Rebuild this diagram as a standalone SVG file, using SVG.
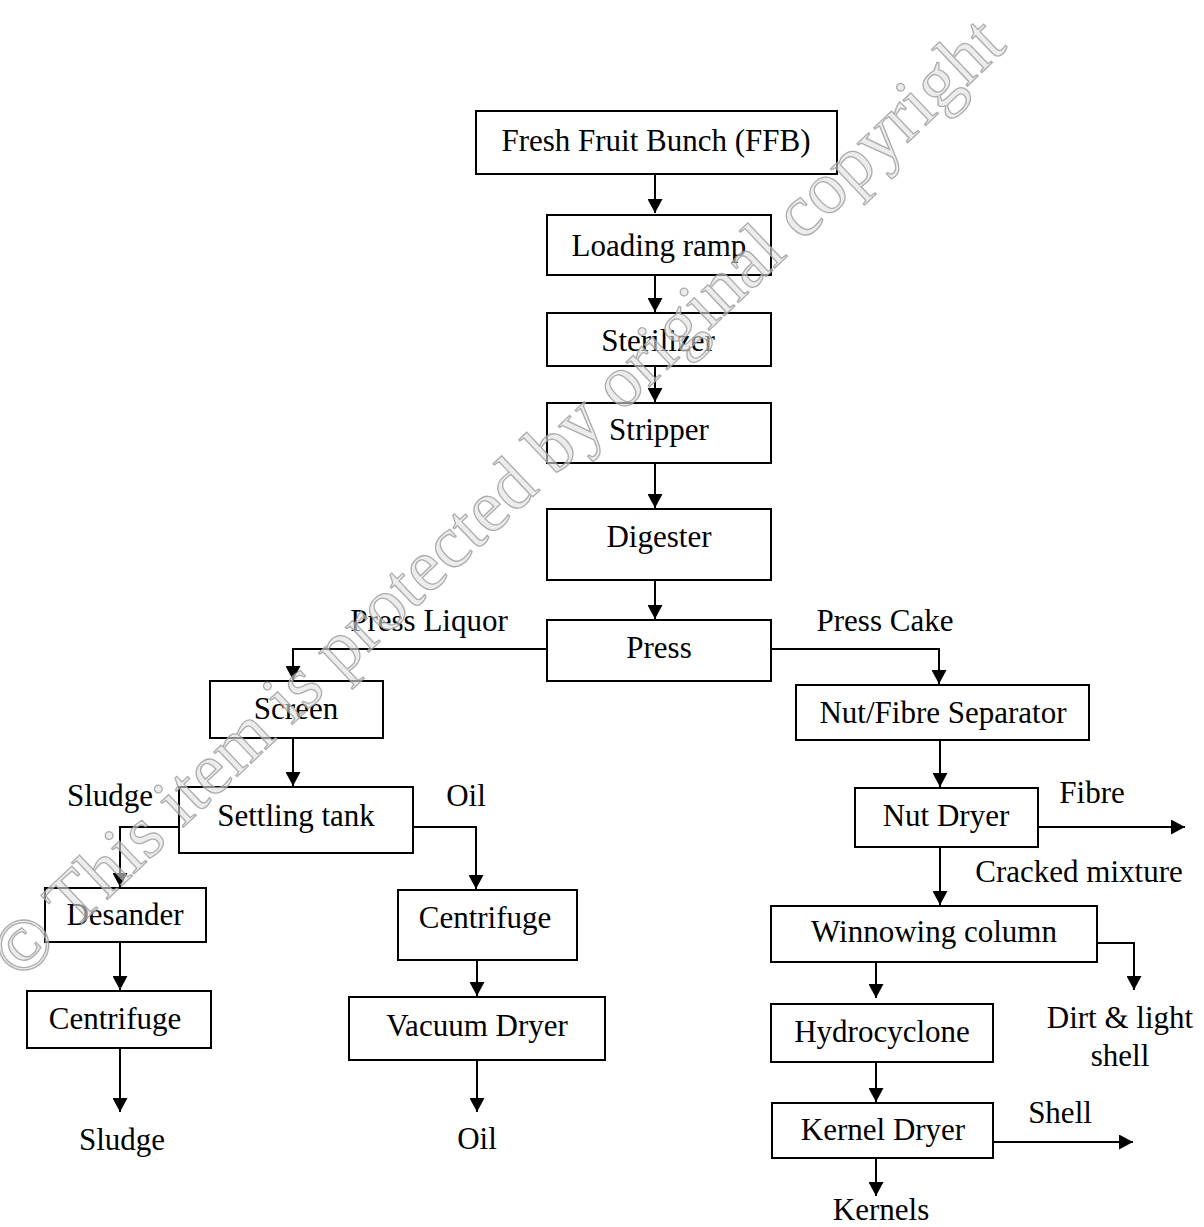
<svg xmlns="http://www.w3.org/2000/svg" width="1204" height="1227" viewBox="0 0 1204 1227">
<style>
.box{fill:#fff;stroke:#000;stroke-width:2}
.t{font-family:"Liberation Serif","Times New Roman",serif;font-size:31px;fill:#000;text-anchor:middle}
.c{fill:none;stroke:#000;stroke-width:2}
.wm{font-family:"Liberation Serif","Times New Roman",serif;font-size:74px;fill:#e0e0e0;fill-opacity:0.6;stroke:#9a9a9a;stroke-opacity:0.8;stroke-width:1.3}
</style>
<defs>
<marker id="ah" markerUnits="userSpaceOnUse" markerWidth="15" markerHeight="15" refX="14" refY="7.5" orient="auto">
<path d="M0,0 L14,7.5 L0,15 z" fill="#000"/>
</marker>
</defs>
<rect width="1204" height="1227" fill="#fff"/>
<g id="connectors">
<path class="c" d="M655,174 V213" marker-end="url(#ah)"/>
<path class="c" d="M655,275 V312" marker-end="url(#ah)"/>
<path class="c" d="M655,366 V402" marker-end="url(#ah)"/>
<path class="c" d="M655,463 V508" marker-end="url(#ah)"/>
<path class="c" d="M655,580 V619" marker-end="url(#ah)"/>
<path class="c" d="M546,649 H293 V680" marker-end="url(#ah)"/>
<path class="c" d="M293,738 V786" marker-end="url(#ah)"/>
<path class="c" d="M179,827 H120 V887" marker-end="url(#ah)"/>
<path class="c" d="M120,942 V990" marker-end="url(#ah)"/>
<path class="c" d="M120,1048 V1112" marker-end="url(#ah)"/>
<path class="c" d="M413,827 H476 V889" marker-end="url(#ah)"/>
<path class="c" d="M477,960 V996" marker-end="url(#ah)"/>
<path class="c" d="M477,1060 V1112" marker-end="url(#ah)"/>
<path class="c" d="M772,649 H939 V684" marker-end="url(#ah)"/>
<path class="c" d="M940,740 V787" marker-end="url(#ah)"/>
<path class="c" d="M1038,827 H1185" marker-end="url(#ah)"/>
<path class="c" d="M940,847 V905" marker-end="url(#ah)"/>
<path class="c" d="M1097,943 H1134 V990" marker-end="url(#ah)"/>
<path class="c" d="M876,962 V998" marker-end="url(#ah)"/>
<path class="c" d="M876,1062 V1102" marker-end="url(#ah)"/>
<path class="c" d="M993,1142 H1133" marker-end="url(#ah)"/>
<path class="c" d="M876,1158 V1196" marker-end="url(#ah)"/>
</g>
<g id="n-ffb"><rect class="box" x="476" y="111" width="361" height="63"/><text class="t" x="656" y="151">Fresh Fruit Bunch (FFB)</text></g>
<g id="n-loading"><rect class="box" x="547" y="215" width="224" height="60"/><text class="t" x="659" y="256">Loading ramp</text></g>
<g id="n-sterilizer"><rect class="box" x="547" y="313" width="224" height="53"/><text class="t" x="658" y="351">Sterilizer</text></g>
<g id="n-stripper"><rect class="box" x="547" y="403" width="224" height="60"/><text class="t" x="659" y="440">Stripper</text></g>
<g id="n-digester"><rect class="box" x="547" y="509" width="224" height="71"/><text class="t" x="659" y="547">Digester</text></g>
<g id="n-press"><rect class="box" x="547" y="620" width="224" height="61"/><text class="t" x="659" y="658">Press</text></g>
<g id="n-screen"><rect class="box" x="210" y="681" width="173" height="57"/><text class="t" x="296" y="719">Screen</text></g>
<g id="n-settling"><rect class="box" x="179" y="787" width="234" height="66"/><text class="t" x="296" y="826">Settling tank</text></g>
<g id="n-desander"><rect class="box" x="45" y="888" width="161" height="54"/><text class="t" x="125" y="925">Desander</text></g>
<g id="n-centrifuge1"><rect class="box" x="27" y="991" width="184" height="57"/><text class="t" x="115" y="1029">Centrifuge</text></g>
<g id="n-centrifuge2"><rect class="box" x="398" y="890" width="179" height="70"/><text class="t" x="485" y="928">Centrifuge</text></g>
<g id="n-vacuum"><rect class="box" x="349" y="997" width="256" height="63"/><text class="t" x="477" y="1036">Vacuum Dryer</text></g>
<g id="n-nutfibre"><rect class="box" x="796" y="685" width="293" height="55"/><text class="t" x="943" y="723">Nut/Fibre Separator</text></g>
<g id="n-nutdryer"><rect class="box" x="855" y="788" width="183" height="59"/><text class="t" x="946" y="826">Nut Dryer</text></g>
<g id="n-winnowing"><rect class="box" x="771" y="906" width="326" height="56"/><text class="t" x="934" y="942">Winnowing column</text></g>
<g id="n-hydro"><rect class="box" x="771" y="1004" width="222" height="58"/><text class="t" x="882" y="1042">Hydrocyclone</text></g>
<g id="n-kernel"><rect class="box" x="772" y="1103" width="221" height="55"/><text class="t" x="883" y="1140">Kernel Dryer</text></g>
<g id="labels">
<text class="t" x="429" y="631">Press Liquor</text>
<text class="t" x="885" y="631">Press Cake</text>
<text class="t" x="110" y="806">Sludge</text>
<text class="t" x="466" y="806">Oil</text>
<text class="t" x="122" y="1150">Sludge</text>
<text class="t" x="477" y="1149">Oil</text>
<text class="t" x="1092" y="803">Fibre</text>
<text class="t" x="1079" y="882">Cracked mixture</text>
<text class="t" x="1120" y="1028">Dirt &amp; light</text>
<text class="t" x="1120" y="1066">shell</text>
<text class="t" x="1060" y="1123">Shell</text>
<text class="t" x="881" y="1220">Kernels</text>
</g>
<g id="watermark">
<text class="wm" transform="translate(20,982) rotate(-43.4)" x="0" y="0">© This item is protected by original copyright</text>
</g>
</svg>
